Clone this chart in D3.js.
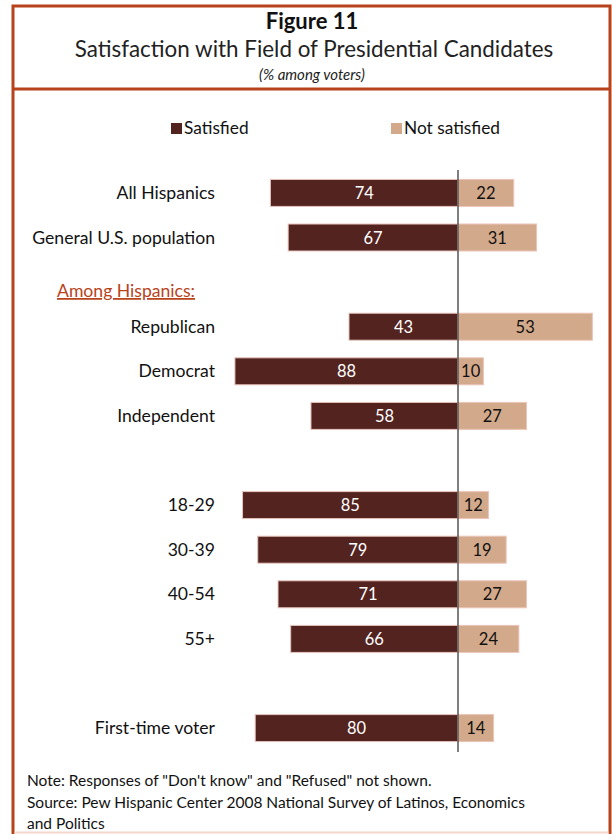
<!DOCTYPE html>
<html>
<head>
<meta charset="utf-8">
<script src="https://cdn.jsdelivr.net/npm/d3@7/dist/d3.min.js"></script>
<style>
  html, body { margin: 0; padding: 0; background: #fff; }
  svg { display: block; font-family: Lato, "Open Sans", sans-serif; }
</style>
</head>
<body>
<svg id="chart" width="612" height="834"></svg>
<script>
// Survey groups, top to bottom, with blank slots between blocks
const categories = ["All Hispanics", "General U.S. population", "", "Republican", "Democrat", "Independent", " ", "18-29", "30-39", "40-54", "55+", "  ", "First-time voter"];
const satisfied    = [74, 67, null, 43, 88, 58, null, 85, 79, 71, 66, null, 80];
const notSatisfied = [22, 31, null, 53, 10, 27, null, 12, 19, 27, 24, null, 14];
const seriesNames = ["Satisfied", "Not satisfied"];
const colors = ["#532320", "#d2a98a"];
const accent = "#b8431b";

const svg = d3.select("#chart");

// Frame: left, top and right sides, with a faint rule along the bottom
svg.append("path").attr("d", "M13,840 V6 H610 V840")
  .attr("fill", "none").attr("stroke", accent).attr("stroke-width", 3);
svg.append("line").attr("x1", 14.5).attr("x2", 608.5).attr("y1", 832.5).attr("y2", 832.5)
  .attr("stroke", "#f2d6cf").attr("stroke-width", 2);
svg.append("line").attr("x1", 12).attr("x2", 611).attr("y1", 89).attr("y2", 89)
  .attr("stroke", accent).attr("stroke-width", 3);

// Titles
svg.append("text").attr("x", 312).attr("y", 29).attr("text-anchor", "middle")
  .attr("font-size", 22).attr("font-weight", "bold").attr("fill", "#111").text("Figure 11");
svg.append("text").attr("x", 314).attr("y", 57).attr("text-anchor", "middle")
  .attr("font-size", 22.4).attr("fill", "#222").text("Satisfaction with Field of Presidential Candidates");
svg.append("text").attr("x", 312).attr("y", 80).attr("text-anchor", "middle")
  .attr("font-size", 15).attr("font-style", "italic").attr("fill", "#222").text("(% among voters)");

// Legend
const legend = svg.append("g");
[[171, 0], [391, 1]].forEach(([x, i]) => {
  legend.append("rect").attr("x", x).attr("y", 123).attr("width", 11).attr("height", 11).attr("fill", colors[i]);
  legend.append("text").attr("x", x + 13).attr("y", 134).attr("font-size", 17.3).attr("fill", "#111").text(seriesNames[i]);
});

// Scales
const x = d3.scaleLinear().domain([0, 100]).range([0, 253.5]);
const zeroX = 458;
const y = d3.scaleBand().domain(categories).range([170.5, 750.5]).paddingInner(0.395).paddingOuter(0.2);

const rows = categories.map((c, i) => ({ c, s: satisfied[i], n: notSatisfied[i] })).filter(d => d.s !== null);

const g = svg.append("g");

// Satisfied bars extend left of zero
g.selectAll("rect.sat").data(rows).join("rect")
  .attr("class", "sat")
  .attr("x", d => zeroX - x(d.s)).attr("y", d => y(d.c))
  .attr("width", d => x(d.s)).attr("height", y.bandwidth())
  .attr("fill", colors[0]).attr("stroke", "#e6c4bc").attr("stroke-width", 1);

// Not-satisfied bars extend right of zero
g.selectAll("rect.not").data(rows).join("rect")
  .attr("class", "not")
  .attr("x", zeroX).attr("y", d => y(d.c))
  .attr("width", d => x(d.n)).attr("height", y.bandwidth())
  .attr("fill", colors[1]).attr("stroke", "#ecc4b8").attr("stroke-width", 1);

// Value labels
g.selectAll("text.satv").data(rows).join("text")
  .attr("x", d => zeroX - x(d.s) / 2).attr("y", d => y(d.c) + y.bandwidth() / 2 + 6)
  .attr("text-anchor", "middle").attr("font-size", 16.5).attr("fill", "#fff").text(d => d.s);
g.selectAll("text.notv").data(rows).join("text")
  .attr("x", d => zeroX + x(d.n) / 2).attr("y", d => y(d.c) + y.bandwidth() / 2 + 6)
  .attr("text-anchor", "middle").attr("font-size", 16.5).attr("fill", "#111").text(d => d.n);

// Category labels
g.selectAll("text.cat").data(rows).join("text")
  .attr("x", 215).attr("y", d => y(d.c) + y.bandwidth() / 2 + 6)
  .attr("text-anchor", "end").attr("font-size", 17.6).attr("fill", "#111").text(d => d.c);

// Zero line
svg.append("line").attr("x1", zeroX).attr("x2", zeroX).attr("y1", 170).attr("y2", 752)
  .attr("stroke", "#555").attr("stroke-width", 1.5);

// Section heading
svg.append("text").attr("x", 57).attr("y", 297).attr("font-size", 17.6).attr("fill", accent)
  .attr("text-decoration", "underline").text("Among Hispanics:");

// Notes
const notes = ["Note: Responses of \"Don't know\" and \"Refused\" not shown.",
  "Source: Pew Hispanic Center 2008 National Survey of Latinos, Economics",
  "and Politics"];
svg.selectAll("text.note").data(notes).join("text")
  .attr("x", 27).attr("y", (d, i) => 786 + i * 21.5).attr("font-size", 15.5).attr("fill", "#111").text(d => d);
</script>
</body>
</html>
